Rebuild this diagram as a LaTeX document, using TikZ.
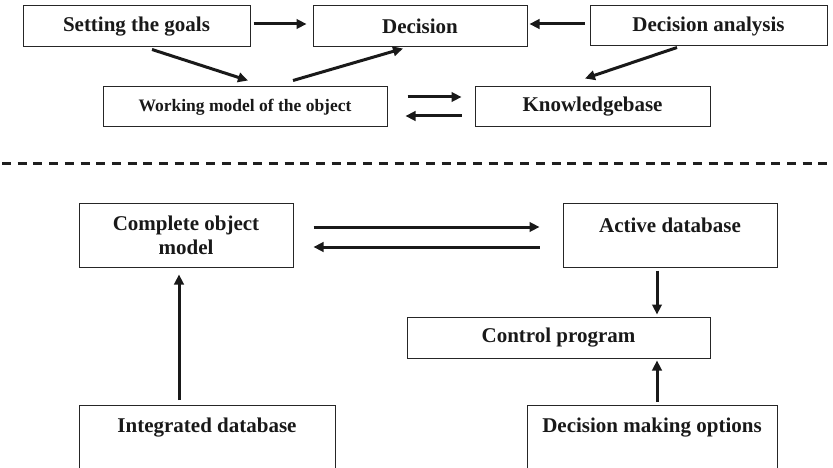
\documentclass[tikz,border=0pt]{standalone}
\usepackage{fontspec}
\setmainfont{Liberation Serif}
\usetikzlibrary{arrows.meta}

\begin{document}
\begin{tikzpicture}[x=1pt,y=-1pt,
  box/.style={draw=black!85, line width=1pt, inner sep=0pt, align=center,
    text=black!90, font=\fontsize{21}{24}\selectfont\bfseries},
  smallbox/.style={box, font=\fontsize{17.5}{20}\selectfont\bfseries},
  arr/.style={-{Triangle[length=10pt,width=9.5pt]}, line width=3pt, draw=black!90},
  dashline/.style={line width=3pt, draw=black!88, dash pattern=on 9pt off 6.7pt}
]
\useasboundingbox (0,0) rectangle (833,468);

% upper level
\node[box, minimum width=227pt, minimum height=41pt] (goals) at (136.5,26.5) {Setting the goals};
\node[box, minimum width=214pt, minimum height=41pt] (dec) at (420,26.5) {Decision};
\node[box, minimum width=237pt, minimum height=40pt] (ana) at (708.5,26) {Decision analysis};
\node[smallbox, minimum width=284pt, minimum height=40pt] (work) at (245,107) {Working model of the object};
\node[box, minimum width=235pt, minimum height=40pt] (kb) at (592.5,107) {Knowledgebase};

\draw[arr] ([xshift=3pt,yshift=2.5pt]goals.east) -- ([xshift=-6pt,yshift=2.5pt]dec.west);
\draw[arr] ([xshift=-5pt,yshift=2pt]ana.west) -- ([xshift=2pt,yshift=2.5pt]dec.east);
\draw[arr] ([xshift=15.5pt,yshift=-2pt]goals.south) -- ([xshift=3pt,yshift=6pt]work.north);
\draw[arr] ([xshift=48pt,yshift=6pt]work.north) -- ([xshift=-17pt,yshift=-1pt]dec.south);
\draw[arr] ([xshift=-31.5pt,yshift=-1pt]ana.south) -- ([xshift=-7.5pt,yshift=8pt]kb.north);
\draw[arr] ([xshift=20pt,yshift=10pt]work.east) -- ([xshift=-13pt,yshift=10pt]kb.west);
\draw[arr] ([xshift=-13pt,yshift=-9pt]kb.west) -- ([xshift=18pt,yshift=-9pt]work.east);

% separator
\coordinate (dl) at (2,164);
\coordinate (dr) at (833,164);
\draw[dashline] (dl) -- (dr);

% lower level
\node[box, minimum width=214pt, minimum height=64pt] (com) at (186,235) {Complete object\\model};
\node[box, minimum width=214pt, text height=29pt, text depth=35pt] (act) at (670,235) {Active database};
\node[box, minimum width=303pt, minimum height=41pt] (ctl) at (558.5,337.5) {Control program};
\node[box, anchor=north, minimum width=256pt, text height=27pt, text depth=60pt] (int) at (207,405) {Integrated database};
\node[box, anchor=north, minimum width=250pt, text height=27pt, text depth=60pt] (opt) at (652,405) {Decision making options};

\draw[arr] ([xshift=20pt,yshift=8pt]com.east) -- ([xshift=-23pt,yshift=8pt]act.west);
\draw[arr] ([xshift=-23pt,yshift=-12pt]act.west) -- ([xshift=20pt,yshift=-12pt]com.east);
\draw[arr] ([xshift=-28pt,yshift=5pt]int.north) -- ([xshift=-7pt,yshift=-7pt]com.south);
\draw[arr] ([xshift=-13pt,yshift=-3pt]act.south) -- ([xshift=98.5pt,yshift=2pt]ctl.north);
\draw[arr] ([xshift=5pt,yshift=3pt]opt.north) -- ([xshift=98.5pt,yshift=-2pt]ctl.south);
\end{tikzpicture}
\end{document}
